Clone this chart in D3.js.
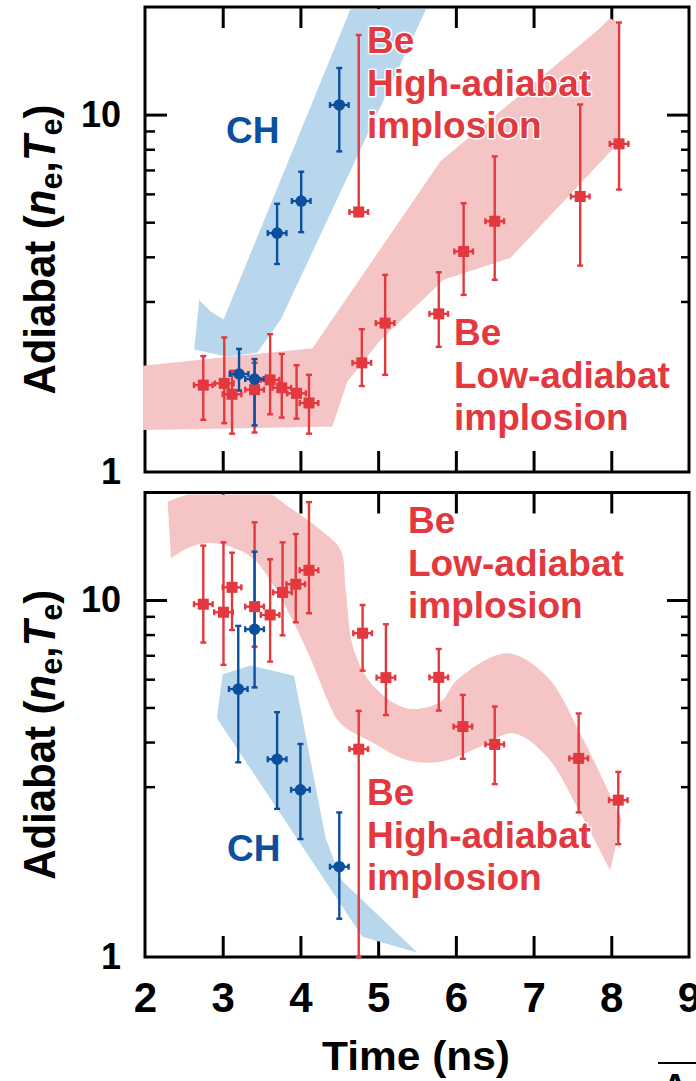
<!DOCTYPE html>
<html>
<head>
<meta charset="utf-8">
<script src="https://cdn.jsdelivr.net/npm/d3@7"></script>
<style>
  html, body { margin: 0; padding: 0; background: #fff; }
  svg { display: block; }
  text { font-family: "Liberation Sans", Arial, Helvetica, sans-serif; font-weight: bold; }
</style>
</head>
<body>
<svg id="chart" width="696" height="1081"></svg>
<script>
// ---- axis ticks ----
const timeTicks = [2, 3, 4, 5, 6, 7, 8, 9];
const adiabatLabels = [1, 10];
const adiabatMinor = [3, 4, 5, 6, 7, 8, 9];

// ---- upper panel: CH ----
const topChTime  = [3.21, 3.41, 3.70, 4.01, 4.50];
const topChValue = [1.88, 1.82, 4.66, 5.73, 10.64];
const topChLow   = [1.69, 1.35, 3.82, 4.69, 7.89];
const topChHigh  = [2.21, 2.07, 5.63, 6.92, 13.5];

// ---- upper panel: Be ----
const topBeTime  = [2.75, 3.02, 3.12, 3.41, 3.61, 3.76, 3.95, 4.11, 4.75, 4.79, 5.09, 5.78, 6.10, 6.50, 7.60, 8.10];
const topBeValue = [1.75, 1.77, 1.65, 1.70, 1.81, 1.72, 1.66, 1.56, 5.34, 2.02, 2.61, 2.77, 4.14, 5.03, 5.90, 8.28];
const topBeLow   = [1.40, 1.37, 1.28, 1.29, 1.45, 1.42, 1.41, 1.28, 5.20, 1.74, 1.87, 2.24, 3.13, 3.45, 3.78, 6.17];
const topBeHigh  = [2.11, 2.38, 1.92, 2.02, 2.43, 2.14, 1.99, 1.87, 16.7, 2.51, 3.56, 3.62, 5.65, 7.64, 10.67, 18.1];

// ---- lower panel: CH ----
const botChTime  = [3.20, 3.41, 3.70, 4.00, 4.50];
const botChValue = [5.63, 8.28, 3.58, 2.94, 1.79];
const botChLow   = [3.51, 5.69, 2.60, 2.14, 1.28];
const botChHigh  = [8.46, 13.65, 4.85, 3.95, 2.54];

// ---- lower panel: Be ----
const botBeTime  = [2.75, 3.01, 3.12, 3.41, 3.61, 3.77, 3.94, 4.11, 4.80, 4.75, 5.10, 5.78, 6.09, 6.50, 7.58, 8.09];
const botBeValue = [9.73, 9.24, 10.85, 9.58, 9.08, 10.5, 11.07, 12.11, 8.07, 3.82, 6.06, 6.07, 4.42, 3.94, 3.60, 2.75];
const botBeLow   = [7.60, 6.58, 8.24, 7.40, 6.72, 7.96, 8.66, 9.18, 6.34, 1.00, 4.76, 4.90, 3.59, 3.05, 2.54, 2.07];
const botBeHigh  = [14.2, 14.5, 13.57, 16.5, 13.0, 14.5, 15.3, 18.8, 9.68, 4.89, 8.55, 7.29, 5.42, 5.03, 4.81, 3.30];

// ---- trend bands [time, adiabat] ----
const topChBand = [[4.655, 20], [5.631, 20], [3.747, 2.67], [3.447, 2.16], [3.062, 2.10],
                   [2.633, 2.20], [2.697, 3.03], [2.848, 2.81], [3.011, 2.67]];
const topBeBand = [[1.95, 1.98], [4.154, 2.22], [5.802, 7.40], [7.85, 17.4], [7.98, 18.6], [8.08, 18.2],
                   [8.114, 8.42], [6.701, 3.97], [5.844, 3.45], [5.031, 2.34], [4.603, 1.79],
                   [4.411, 1.34], [1.95, 1.31]];
const botChBand = [[2.998, 6.19], [3.361, 6.55], [3.918, 6.13], [4.325, 2.15], [4.53, 1.64],
                   [5.503, 1.03], [4.796, 1.14], [2.925, 4.66]];
const botBeUpper = [[2.292, 18.86], [3.018, 21], [3.490, 20.5], [3.875, 18.07], [4.260, 15.71],
                    [4.517, 13.81], [4.582, 10.67], [4.688, 7.24], [4.945, 5.72], [5.374, 4.97],
                    [5.802, 5.19], [6.016, 5.97], [6.658, 7.09], [7.172, 6.10], [7.600, 4.23], [8.135, 2.42]];
const botBeLower = [[7.985, 1.75], [7.600, 2.53], [7.172, 3.64], [6.743, 4.23], [6.315, 3.88],
                    [5.802, 3.52], [5.374, 3.56], [4.945, 3.97], [4.517, 4.51], [4.347, 5.25],
                    [4.175, 6.50], [3.961, 8.24], [3.661, 10.90], [3.361, 13.22], [2.890, 14.41],
                    [2.591, 14.10], [2.334, 13.09]];

// ---- text ----
const chLabel = ["CH"];
const beHighLabel = ["Be", "High-adiabat", "implosion"];
const beLowLabel = ["Be", "Low-adiabat", "implosion"];
const timeTitle = "Time (ns)";
const timeErr = 0.12;

// ---- styles ----
const RED = "#e2383e", BLUE = "#0b4f9e";
const RED_BAND = "#f5c4c5", BLUE_BAND = "#b8d7ec";

const svg = d3.select("#chart");
const x = d3.scaleLinear().domain([2, 9]).range([145, 689]);

const zip = (t, v, lo, hi) => t.map((d, i) => ({ t: d, v: v[i], lo: lo[i], hi: hi[i] }));

function drawPanel(p, idx) {
  const y = d3.scaleLog().domain([1, 20]).range([p.bottom, p.top]);
  const g = svg.append("g");

  // frame
  g.append("rect")
    .attr("x", x(2)).attr("y", p.top)
    .attr("width", x(9) - x(2)).attr("height", p.bottom - p.top)
    .attr("fill", "none").attr("stroke", "#000").attr("stroke-width", 3);

  // inward ticks on all four sides
  const tickStyle = (sel, w) => {
    sel.select(".domain").remove();
    sel.selectAll("line").attr("stroke", "#000").attr("stroke-width", w);
    sel.selectAll("text").remove();
  };
  const inner = timeTicks.slice(1, -1);
  g.append("g").attr("transform", `translate(0,${p.bottom})`)
    .call(d3.axisBottom(x).tickValues(inner).tickSize(-21)).call(tickStyle, 3);
  g.append("g").attr("transform", `translate(0,${p.top})`)
    .call(d3.axisTop(x).tickValues(inner).tickSize(-21)).call(tickStyle, 3);
  g.append("g").attr("transform", `translate(${x(2)},0)`)
    .call(d3.axisLeft(y).tickValues([10]).tickSize(-22)).call(tickStyle, 3);
  g.append("g").attr("transform", `translate(${x(2)},0)`)
    .call(d3.axisLeft(y).tickValues(adiabatMinor).tickSize(-10)).call(tickStyle, 2.5);
  g.append("g").attr("transform", `translate(${x(9)},0)`)
    .call(d3.axisRight(y).tickValues([10]).tickSize(-22)).call(tickStyle, 3);
  g.append("g").attr("transform", `translate(${x(9)},0)`)
    .call(d3.axisRight(y).tickValues(adiabatMinor).tickSize(-8)).call(tickStyle, 2.5);

  // y tick labels
  const yl = g.append("g").attr("transform", `translate(${x(2)},0)`)
    .call(d3.axisLeft(y).tickValues(adiabatLabels).tickFormat(d3.format("d")).tickSize(0).tickPadding(24));
  yl.select(".domain").remove();
  yl.selectAll("text").attr("font-size", 36).attr("font-family", null).attr("fill", "#000");

  // x tick labels on the lower panel only
  if (p.xLabels) {
    const xl = g.append("g").attr("transform", `translate(0,${p.bottom})`)
      .call(d3.axisBottom(x).tickValues(timeTicks).tickFormat(d3.format("d")).tickSize(0).tickPadding(25));
    xl.select(".domain").remove();
    xl.selectAll("text").attr("font-size", 42).attr("font-family", null).attr("fill", "#000");
  }

  // clip for bands (left edge may cover the frame line)
  const clipId = "clip" + idx;
  svg.append("clipPath").attr("id", clipId).append("rect")
    .attr("x", x(2) - 2).attr("y", p.top + 2)
    .attr("width", x(9) - x(2) + 1).attr("height", p.bottom - p.top - 3.5);
  const bands = g.append("g").attr("clip-path", `url(#${clipId})`);

  const poly = d3.line().x(d => x(d[0])).y(d => y(d[1]));
  p.bands.forEach(b => {
    let d;
    if (b.upper) {
      const smooth = d3.line().x(d => x(d[0])).y(d => y(d[1])).curve(d3.curveCatmullRom.alpha(0.5));
      d = smooth(b.upper) + smooth(b.lower).replace(/^M/, "L") + "Z";
    } else {
      d = poly.curve(d3.curveLinearClosed)(b.pts);
    }
    bands.append("path").attr("d", d).attr("fill", b.color);
  });

  // error bars
  const cap = 3;
  const drawBars = (data, color) => {
    const eb = g.append("g").attr("stroke", color).attr("stroke-width", 2.4).attr("fill", "none");
    data.forEach(d => {
      const cx = x(d.t), cy = y(d.v), y0 = y(d.lo), y1 = y(d.hi);
      const x0 = x(d.t - timeErr), x1 = x(d.t + timeErr);
      eb.append("line").attr("x1", cx).attr("x2", cx).attr("y1", y0).attr("y2", y1);
      eb.append("line").attr("x1", cx - cap).attr("x2", cx + cap).attr("y1", y0).attr("y2", y0);
      eb.append("line").attr("x1", cx - cap).attr("x2", cx + cap).attr("y1", y1).attr("y2", y1);
      eb.append("line").attr("x1", x0).attr("x2", x1).attr("y1", cy).attr("y2", cy);
      eb.append("line").attr("x1", x0).attr("x2", x0).attr("y1", cy - cap).attr("y2", cy + cap);
      eb.append("line").attr("x1", x1).attr("x2", x1).attr("y1", cy - cap).attr("y2", cy + cap);
    });
  };
  drawBars(p.be, RED);
  drawBars(p.ch, BLUE);

  const s = 11;
  g.append("g").selectAll("rect").data(p.be).join("rect")
    .attr("x", d => x(d.t) - s / 2).attr("y", d => y(d.v) - s / 2)
    .attr("width", s).attr("height", s).attr("fill", RED);
  g.append("g").selectAll("circle").data(p.ch).join("circle")
    .attr("cx", d => x(d.t)).attr("cy", d => y(d.v)).attr("r", 5.8).attr("fill", BLUE);

  // annotations
  p.labels.forEach(l => {
    const t = g.append("text").attr("fill", l.color).attr("font-size", 37)
      .attr("stroke", "#fff").attr("stroke-width", 3).attr("stroke-linejoin", "round")
      .attr("paint-order", "stroke");
    l.lines.forEach((s, i) => t.append("tspan").attr("x", l.x).attr("y", l.y + i * 42.5).text(s));
  });

  // y title
  const cy = (p.top + p.bottom) / 2 + 10;
  const yt = svg.append("text")
    .attr("transform", `translate(55,${cy}) rotate(-90)`)
    .attr("text-anchor", "middle").attr("font-size", 44).attr("fill", "#000")
    .attr("textLength", 290).attr("lengthAdjust", "spacingAndGlyphs");
  yt.append("tspan").text("Adiabat (");
  yt.append("tspan").attr("font-style", "italic").text("n");
  yt.append("tspan").attr("font-size", 32).attr("dy", 7).text("e");
  yt.append("tspan").attr("dy", -7).text(",");
  yt.append("tspan").attr("font-style", "italic").text("T");
  yt.append("tspan").attr("font-size", 32).attr("dy", 7).text("e");
  yt.append("tspan").attr("dy", -7).text(")");
}

const panels = [
  {
    top: 7, bottom: 472, xLabels: false,
    ch: zip(topChTime, topChValue, topChLow, topChHigh),
    be: zip(topBeTime, topBeValue, topBeLow, topBeHigh),
    bands: [{ pts: topBeBand, color: RED_BAND }, { pts: topChBand, color: BLUE_BAND }],
    labels: [
      { lines: chLabel, x: 226, y: 143, color: BLUE },
      { lines: beHighLabel, x: 367, y: 53, color: RED },
      { lines: beLowLabel, x: 454, y: 345, color: RED }
    ]
  },
  {
    top: 492.5, bottom: 957, xLabels: true,
    ch: zip(botChTime, botChValue, botChLow, botChHigh),
    be: zip(botBeTime, botBeValue, botBeLow, botBeHigh),
    bands: [{ upper: botBeUpper, lower: botBeLower, color: RED_BAND }, { pts: botChBand, color: BLUE_BAND }],
    labels: [
      { lines: chLabel, x: 227, y: 861, color: BLUE },
      { lines: beHighLabel, x: 367, y: 805, color: RED },
      { lines: beLowLabel, x: 408, y: 533, color: RED }
    ]
  }
];

panels.forEach(drawPanel);

// x title
svg.append("text").attr("x", 416).attr("y", 1070).attr("text-anchor", "middle")
  .attr("font-size", 40).attr("fill", "#000")
  .attr("textLength", 188).attr("lengthAdjust", "spacingAndGlyphs")
  .text(timeTitle);

// neighbouring figure edge
svg.append("line").attr("x1", 658).attr("x2", 696).attr("y1", 1063).attr("y2", 1063)
  .attr("stroke", "#000").attr("stroke-width", 2);
svg.append("text").attr("x", 662).attr("y", 1100).attr("font-size", 36).attr("fill", "#000").text("A");
</script>
</body>
</html>
